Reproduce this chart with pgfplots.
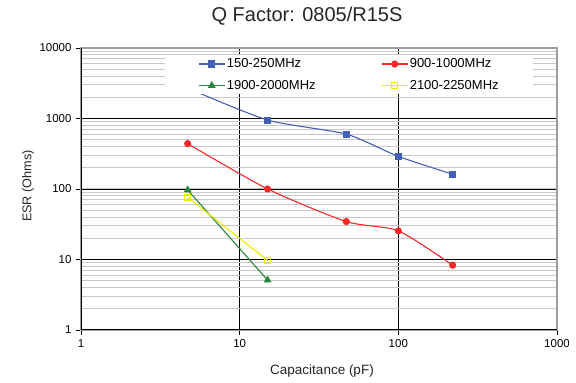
\documentclass[border=0pt]{standalone}
\usepackage{pgfplots}
\pgfplotsset{compat=1.18}
\usepackage{fontspec}
\setmainfont{Liberation Sans}
\definecolor{cblue}{RGB}{66,96,180}
\definecolor{cred}{RGB}{245,40,40}
\definecolor{cgreen}{RGB}{40,135,60}
\definecolor{cyellow}{RGB}{238,238,0}
\definecolor{cgrid}{RGB}{200,200,200}
\begin{document}
\begin{tikzpicture}
\useasboundingbox (-81bp,-53bp) rectangle (495bp,330bp);
\begin{axis}[
  scale only axis,
  width=476bp, height=282bp,
  xmode=log, ymode=log,
  xmin=1, xmax=1000, ymin=1, ymax=10000,
  xtick={1,10,100,1000}, xticklabels={1,10,100,1000},
  ytick={1,10,100,1000,10000}, yticklabels={1,10,100,1000,10000},
  xminorticks=false,
  minor tick length=0pt,
  xtick pos=bottom, ytick pos=left,
  tick align=outside, major tick length=5bp,
  major tick style={black, line width=0.9pt},
  grid=both,
  xminorgrids=false,
  major grid style={black, line width=0.9pt},
  minor grid style={cgrid, line width=1.1pt},
  axis line style={draw=gray!75, line width=1.1pt},
  tick label style={font=\fontsize{11.5bp}{13bp}\selectfont},
  xticklabel style={yshift=-1bp},
  yticklabel style={xshift=-1bp},
  legend columns=2,
  legend cell align=left,
  legend style={at={(0.1765,0.975)}, anchor=north west, draw=none, fill=white,
    inner xsep=33bp, inner ysep=2bp,
    font=\fontsize{13bp}{15bp}\selectfont,
    nodes={inner sep=1.5bp},
    /tikz/every even column/.append style={column sep=64bp},
    row sep=8bp},
  legend image code/.code={\draw[mark repeat=2,mark phase=2] plot coordinates {(0bp,0bp)(13bp,0bp)(26bp,0bp)};},
]
\addplot[cblue, line width=1.1pt, smooth, tension=0.4, mark=square*, mark size=3bp, mark options={solid, fill=cblue}]
  coordinates {(4.7,2700) (15,950) (47,600) (100,290) (220,162)};
\addlegendentry{150-250MHz}
\addplot[cred, line width=1.1pt, smooth, tension=0.4, mark=*, mark size=3bp, mark options={solid, fill=cred}]
  coordinates {(4.7,440) (15,100) (47,34.5) (100,25.5) (220,8.3)};
\addlegendentry{900-1000MHz}
\addplot[cgreen, line width=1.1pt, mark=triangle*, mark size=3.5bp, mark options={solid, fill=cgreen}]
  coordinates {(4.7,97) (15,5.1)};
\addlegendentry{1900-2000MHz}
\addplot[cyellow, line width=1.1pt, mark=square, mark size=3bp, mark options={solid, fill=white, draw=cyellow, line width=1pt}]
  coordinates {(4.7,76) (15,9.7)};
\addlegendentry{2100-2250MHz}
\draw[black, line width=1.2pt] (rel axis cs:0,1) -- (rel axis cs:0,0) -- (rel axis cs:1,0);
\end{axis}
\node[font=\fontsize{20bp}{24bp}\selectfont, text=black!85] at (226bp,314bp) {Q Factor: 0805/R15S};
\node[font=\fontsize{12.7bp}{15bp}\selectfont, text=black!85, rotate=90] at (-53bp,144bp) {ESR (Ohms)};
\node[font=\fontsize{13.5bp}{16bp}\selectfont, text=black!85] at (241bp,-41bp) {Capacitance (pF)};
\end{tikzpicture}
\end{document}
